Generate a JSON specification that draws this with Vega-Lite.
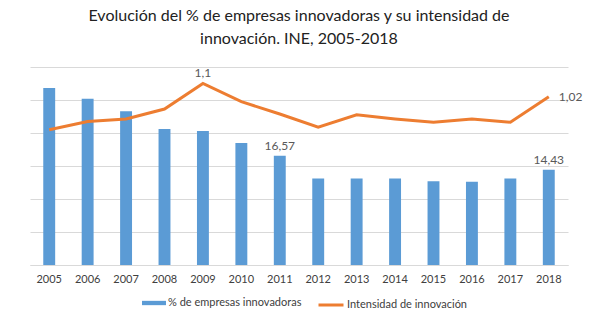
{
  "$schema": "https://vega.github.io/schema/vega-lite/v6.json",
  "width": 538,
  "height": 198,
  "autosize": {"type": "none"},
  "padding": {"left": 30, "top": 67, "right": 32, "bottom": 58},
  "background": "white",
  "config": {"font": "Lato", "view": {"stroke": null}},
  "title": {
    "text": ["Evolución del % de empresas innovadoras y su intensidad de", "innovación. INE, 2005-2018"],
    "fontSize": 16,
    "fontWeight": "normal",
    "color": "#222222",
    "lineHeight": 23,
    "offset": 20,
    "anchor": "middle"
  },
  "data": {
    "values": [
      {"year": "2005", "pct": 26.8, "int": 0.82, "pctLabel": null, "intLabel": null},
      {"year": "2006", "pct": 25.2, "int": 0.87, "pctLabel": null, "intLabel": null},
      {"year": "2007", "pct": 23.3, "int": 0.885, "pctLabel": null, "intLabel": null},
      {"year": "2008", "pct": 20.6, "int": 0.945, "pctLabel": null, "intLabel": null},
      {"year": "2009", "pct": 20.3, "int": 1.1, "pctLabel": null, "intLabel": "1,1"},
      {"year": "2010", "pct": 18.5, "int": 0.99, "pctLabel": null, "intLabel": null},
      {"year": "2011", "pct": 16.57, "int": 0.915, "pctLabel": "16,57", "intLabel": null},
      {"year": "2012", "pct": 13.1, "int": 0.835, "pctLabel": null, "intLabel": null},
      {"year": "2013", "pct": 13.1, "int": 0.91, "pctLabel": null, "intLabel": null},
      {"year": "2014", "pct": 13.1, "int": 0.885, "pctLabel": null, "intLabel": null},
      {"year": "2015", "pct": 12.7, "int": 0.865, "pctLabel": null, "intLabel": null},
      {"year": "2016", "pct": 12.6, "int": 0.885, "pctLabel": null, "intLabel": null},
      {"year": "2017", "pct": 13.1, "int": 0.865, "pctLabel": null, "intLabel": null},
      {"year": "2018", "pct": 14.43, "int": 1.02, "pctLabel": "14,43", "intLabel": "1,02"}
    ]
  },
  "encoding": {
    "x": {
      "field": "year",
      "type": "ordinal",
      "scale": {"paddingInner": 0.69, "paddingOuter": 0.345},
      "axis": {
        "title": null,
        "labelAngle": 0,
        "ticks": false,
        "domainColor": "#D9D9D9",
        "labelFontSize": 11,
        "labelColor": "#404040",
        "labelPadding": 8,
        "grid": false
      }
    }
  },
  "layer": [
    {
      "encoding": {
        "y": {
          "field": "pct",
          "type": "quantitative",
          "scale": {"domain": [0, 30], "nice": false},
          "axis": {
            "title": null,
            "labels": false,
            "ticks": false,
            "domain": false,
            "grid": true,
            "values": [0, 5, 10, 15, 20, 25, 30],
            "gridColor": "#D9D9D9",
            "gridOpacity": 1,
            "gridWidth": 1
          }
        }
      },
      "layer": [
        {
          "mark": {"type": "bar", "color": "#5B9BD5"},
          "encoding": {
            "color": {
              "datum": "% de empresas innovadoras",
              "scale": {"range": ["#5B9BD5"]},
              "legend": {
                "title": null,
                "orient": "none",
                "legendX": 112,
                "legendY": 224,
                "padding": 0,
                "symbolType": "M-1,-0.18L1,-0.18L1,0.18L-1,0.18Z",
                "symbolSize": 576,
                "symbolStrokeWidth": 0,
                "labelFontSize": 11,
                "labelColor": "#404040",
                "labelOffset": 2
              }
            }
          }
        },
        {
          "mark": {"type": "text", "dy": -10, "fontSize": 12, "color": "#595959"},
          "transform": [{"filter": "datum.pctLabel != null"}],
          "encoding": {
            "text": {"field": "pctLabel"}
          }
        }
      ]
    },
    {
      "encoding": {
        "y": {
          "field": "int",
          "type": "quantitative",
          "scale": {"domain": [0, 1.2], "nice": false},
          "axis": null
        }
      },
      "layer": [
        {
          "mark": {"type": "line", "strokeWidth": 3, "color": "#ED7D31"},
          "encoding": {
            "color": {
              "datum": "Intensidad de innovación",
              "scale": {"range": ["#ED7D31"]},
              "legend": {
                "title": null,
                "orient": "none",
                "legendX": 287,
                "legendY": 224,
                "padding": 0,
                "symbolType": "stroke",
                "symbolSize": 625,
                "symbolStrokeWidth": 3,
                "labelFontSize": 11,
                "labelColor": "#404040",
                "labelOffset": 2
              }
            }
          }
        },
        {
          "mark": {"type": "text", "dy": -11, "fontSize": 12, "color": "#595959"},
          "transform": [{"filter": "datum.year == '2009'"}],
          "encoding": {
            "text": {"field": "intLabel"}
          }
        },
        {
          "mark": {"type": "text", "dx": 10, "align": "left", "fontSize": 12, "color": "#595959"},
          "transform": [{"filter": "datum.year == '2018'"}],
          "encoding": {
            "text": {"field": "intLabel"}
          }
        }
      ]
    }
  ],
  "resolve": {"scale": {"y": "independent", "color": "independent"}}
}
